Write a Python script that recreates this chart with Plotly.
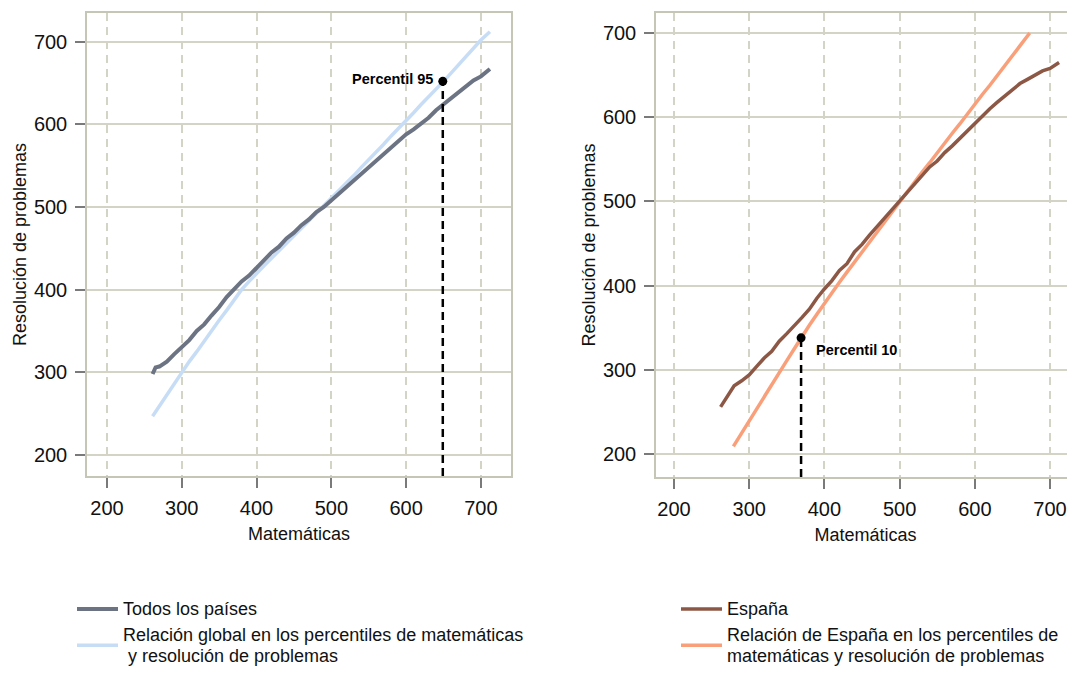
import plotly.graph_objects as go

# ---------------- data ----------------
todos_x = [261, 265, 270, 280, 290, 300, 310, 320, 330, 340, 350, 360, 370, 380, 390, 400,
           410, 420, 430, 440, 450, 460, 470, 480, 490, 500, 510, 520, 530, 540, 550, 560,
           570, 580, 590, 600, 610, 620, 630, 640, 650, 660, 670, 680, 690, 700, 712]
todos_y = [298, 306, 307, 313, 322, 331, 339, 350, 358, 369, 379, 391, 401, 410, 417, 426,
           435, 445, 452, 462, 469, 478, 485, 494, 500, 508, 515, 524, 531, 540, 547, 556,
           563, 572, 579, 588, 594, 601, 608, 617, 624, 632, 639, 646, 653, 658, 667]

global_x = [261, 270, 280, 290, 300, 310, 320, 330, 340, 350, 360, 370, 380, 390, 400, 410,
            420, 430, 440, 450, 460, 470, 480, 490, 500, 510, 520, 530, 540, 550, 560, 570,
            580, 590, 600, 610, 620, 630, 640, 650, 660, 670, 680, 690, 700, 712]
global_y = [247, 259, 273, 287, 300, 313, 325, 338, 350, 363, 375, 388, 400, 410, 420, 429,
            438, 447, 456, 465, 474, 483, 492, 501, 510, 519, 529, 538, 548, 557, 567, 576,
            586, 595, 605, 614, 624, 633, 643, 652, 662, 672, 682, 692, 702, 712]

espana_x = [262, 270, 280, 290, 300, 310, 320, 330, 340, 350, 360, 370, 380, 390, 400, 410,
            420, 430, 440, 450, 460, 470, 480, 490, 500, 510, 520, 530, 540, 550, 560, 570,
            580, 590, 600, 610, 620, 630, 640, 650, 660, 670, 680, 690, 700, 712]
espana_y = [256, 268, 281, 287, 294, 304, 314, 322, 334, 343, 352, 362, 372, 385, 396, 406,
            418, 426, 440, 449, 460, 470, 481, 490, 500, 510, 520, 530, 541, 548, 558, 566,
            575, 583, 593, 602, 610, 618, 625, 633, 640, 645, 650, 655, 658, 665]

rel_esp_x = [279, 290, 300, 310, 320, 330, 340, 350, 360, 370, 380, 390, 400, 410, 420, 430,
             440, 450, 460, 470, 480, 490, 500, 510, 520, 530, 540, 550, 560, 570, 580, 590,
             600, 610, 620, 630, 640, 650, 660, 673]
rel_esp_y = [209, 225, 240, 254, 269, 283, 297, 311, 325, 340, 353, 366, 379, 391, 404, 416,
             428, 440, 452, 464, 476, 488, 500, 512, 523, 535, 546, 558, 569, 581, 592, 604,
             615, 627, 638, 650, 662, 673, 685, 700]

p95 = (649, 652)
p10 = (369, 338)

tick_vals = [200, 300, 400, 500, 600, 700]
x_title = "Matemáticas"
y_title = "Resolución de problemas"
name_todos = ["Todos los países"]
name_global = ["Relación global en los percentiles de matemáticas", "\u00a0y resolución de problemas"]
name_esp = ["España"]
name_rel_esp = ["Relación de España en los percentiles de", "matemáticas y resolución de problemas"]

# ---------------- style ----------------
# The page is drawn with an 8px body margin, so figure coords = screen coords - 8.
OFF = 8
W, H = 1075 - OFF, 673 - OFF
FONT = "Liberation Sans, Arial, sans-serif"
GRID = "#d4d4c6"
FRAME = "#c6c6b6"


def px(x):
    return (x - OFF) / W


def py(y):
    return 1 - (y - OFF) / H


LX = [px(87), px(511)]
LY = [py(476), py(13)]
RX = [px(656), 1.0]
RY = [py(477), py(13)]
L_XR = [173.3, 740.2]
L_YR = [174.6, 734.7]
R_XR = [176.1, 733.2]
R_YR = [172.7, 723.8]

LEG_SIZE = 18


def legname(lines):
    return "<br>".join(f"<span style='font-size:{LEG_SIZE}px'>{t}</span>" for t in lines)


fig = go.Figure()

fig.add_trace(go.Scatter(x=global_x, y=global_y, mode="lines",
                         line=dict(color="#c7ddf6", width=3.5),
                         name=legname(name_global),
                         xaxis="x", yaxis="y", legend="legend2"))
fig.add_trace(go.Scatter(x=todos_x, y=todos_y, mode="lines",
                         line=dict(color="#6c7484", width=4),
                         name=legname(name_todos), xaxis="x", yaxis="y", legend="legend"))
fig.add_trace(go.Scatter(x=[p95[0], p95[0]], y=[L_YR[0], p95[1]], mode="lines",
                         line=dict(color="black", width=2.5, dash="8px,5px"),
                         showlegend=False, xaxis="x", yaxis="y", hoverinfo="skip"))
fig.add_trace(go.Scatter(x=[p95[0]], y=[p95[1]], mode="markers",
                         marker=dict(color="black", size=9, symbol="circle"),
                         showlegend=False, xaxis="x", yaxis="y"))

fig.add_trace(go.Scatter(x=rel_esp_x, y=rel_esp_y, mode="lines",
                         line=dict(color="#f9a07b", width=3.5),
                         name=legname(name_rel_esp),
                         xaxis="x2", yaxis="y2", legend="legend4"))
fig.add_trace(go.Scatter(x=espana_x, y=espana_y, mode="lines",
                         line=dict(color="#8c5845", width=3.5),
                         name=legname(name_esp), xaxis="x2", yaxis="y2", legend="legend3"))
fig.add_trace(go.Scatter(x=[p10[0], p10[0]], y=[R_YR[0], p10[1]], mode="lines",
                         line=dict(color="black", width=2.5, dash="8px,5px"),
                         showlegend=False, xaxis="x2", yaxis="y2", hoverinfo="skip"))
fig.add_trace(go.Scatter(x=[p10[0]], y=[p10[1]], mode="markers",
                         marker=dict(color="black", size=9, symbol="circle"),
                         showlegend=False, xaxis="x2", yaxis="y2"))

axis_common = dict(
    tickvals=tick_vals, showgrid=True, gridcolor=GRID, gridwidth=1.5,
    showline=True, linecolor=FRAME, linewidth=1.5, mirror=True,
    ticks="outside", ticklen=10, tickwidth=1.5, tickcolor="#7a7a7a",
    zeroline=False, automargin=False,
    tickfont=dict(family=FONT, size=20, color="#111111"),
)
xcommon = dict(axis_common, griddash="8px,6px", ticklabelstandoff=3,
               title=dict(text=x_title, font=dict(family=FONT, size=18, color="#111111"), standoff=10))
ycommon = dict(axis_common, griddash="solid", ticklabelstandoff=4,
               title=dict(text=y_title, font=dict(family=FONT, size=18, color="#111111"), standoff=3))

legend_font = dict(family=FONT, size=16, color="#111111")


def leg(xs, ys=None, bottom=False):
    d = dict(x=px(xs), xanchor="left",
             font=legend_font, bgcolor="rgba(0,0,0,0)", borderwidth=0,
             itemwidth=41, itemclick=False, itemdoubleclick=False)
    if bottom:
        d.update(y=0, yanchor="bottom")
    else:
        d.update(y=py(ys), yanchor="middle")
    return d


fig.update_layout(
    width=W, height=H,
    margin=dict(l=0, r=0, t=0, b=0),
    paper_bgcolor="white", plot_bgcolor="white",
    xaxis=dict(xcommon, domain=LX, range=L_XR, anchor="y"),
    yaxis=dict(ycommon, domain=LY, range=L_YR, anchor="x"),
    xaxis2=dict(xcommon, domain=RX, range=R_XR, anchor="y2"),
    yaxis2=dict(ycommon, domain=RY, range=R_YR, anchor="x2"),
    legend=leg(72, 609),
    legend2=leg(72, bottom=True),
    legend3=leg(676, 609),
    legend4=leg(676, bottom=True),
    annotations=[
        dict(x=p95[0], y=p95[1], xref="x", yref="y", text="<b>Percentil 95</b>",
             showarrow=False, xanchor="right", yanchor="middle", xshift=-8, yshift=2,
             font=dict(family=FONT, size=14.5, color="black")),
        dict(x=p10[0], y=p10[1], xref="x2", yref="y2", text="<b>Percentil 10</b>",
             showarrow=False, xanchor="left", yanchor="middle", xshift=13, yshift=-12,
             font=dict(family=FONT, size=14.5, color="black")),
    ],
    showlegend=True,
)

fig.write_html("out.html")
